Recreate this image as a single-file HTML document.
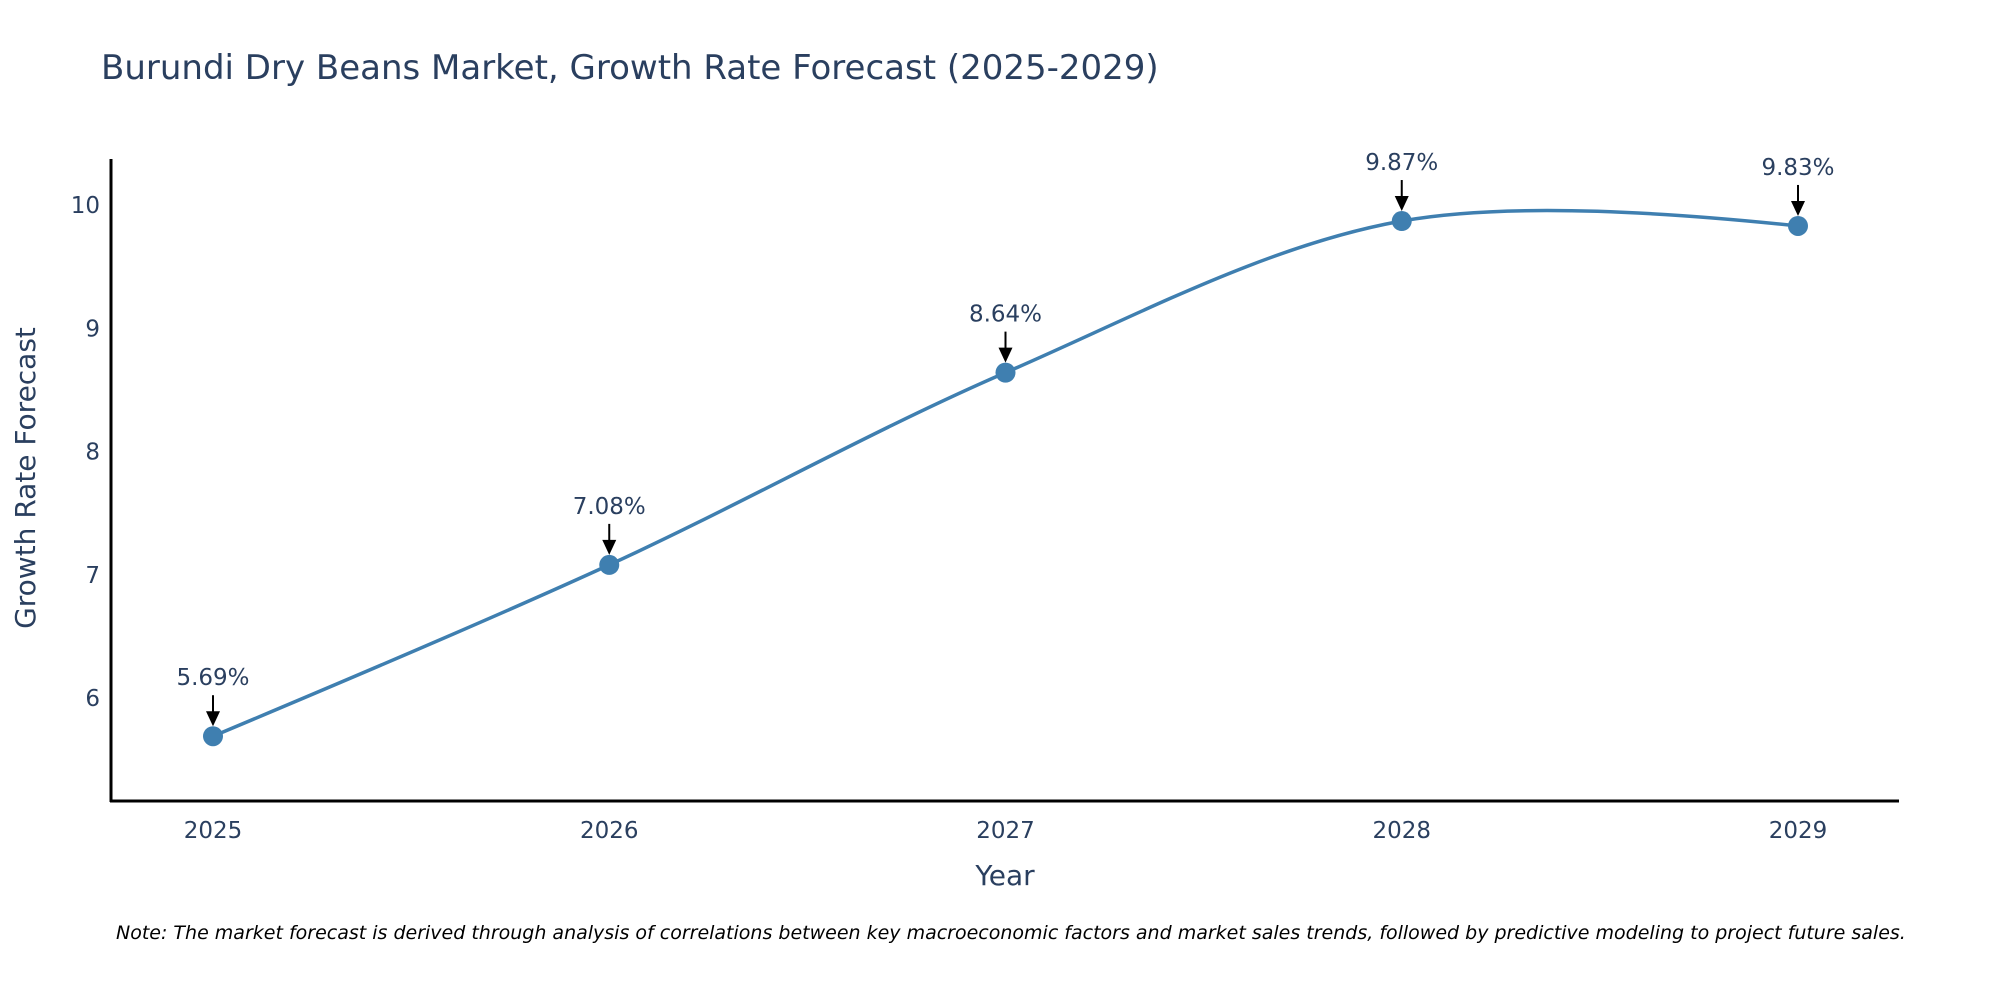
<!DOCTYPE html>
<html><head><meta charset="utf-8"><style>
body{margin:0;background:#fff;}
svg{display:block;font-family:"DejaVu Sans","Liberation Sans",sans-serif;}
</style></head><body>
<svg width="2000" height="1000" viewBox="0 0 2000 1000" id="chart">
<rect width="2000" height="1000" fill="#fff"/>
<text x="101" y="79" font-size="34" fill="#2a3f5f">Burundi Dry Beans Market, Growth Rate Forecast (2025-2029)</text>
<g id="plot"></g>
<line x1="111" y1="159" x2="111" y2="802" stroke="#000" stroke-width="3"/>
<line x1="110" y1="801" x2="1899" y2="801" stroke="#000" stroke-width="3"/>
<text x="1005" y="885" font-size="28" fill="#2a3f5f" text-anchor="middle">Year</text>
<text transform="translate(35,478) rotate(-90)" font-size="28" fill="#2a3f5f" text-anchor="middle">Growth Rate Forecast</text>
<text x="116" y="939" font-size="19" font-style="italic" fill="#000">Note: The market forecast is derived through analysis of correlations between key macroeconomic factors and market sales trends, followed by predictive modeling to project future sales.</text>
</svg>
<script>
const years=[2025,2026,2027,2028,2029];
const values=[5.69,7.08,8.64,9.87,9.83];
const labels=["5.69%","7.08%","8.64%","9.87%","9.83%"];
const yTicks=[6,7,8,9,10];
const NS="http://www.w3.org/2000/svg";
const g=document.getElementById('plot');
const xS=v=>213+(v-2025)*(1798-213)/4;
const yS=v=>698-(v-6)*(698-205)/4;
function mk(t,a){const e=document.createElementNS(NS,t);for(const k in a)e.setAttribute(k,a[k]);g.appendChild(e);return e;}
yTicks.forEach(t=>{const e=mk('text',{x:100,y:yS(t)+8,'font-size':23,fill:'#2a3f5f','text-anchor':'end'});e.textContent=t;

});
years.forEach(t=>{const e=mk('text',{x:xS(t),y:838,'font-size':23,fill:'#2a3f5f','text-anchor':'middle'});e.textContent=t;

});
const P=years.map((y,i)=>[xS(y),yS(values[i])]);
function tan(a,b,c,s){const d1x=a[0]-b[0],d1y=a[1]-b[1],d2x=c[0]-b[0],d2y=c[1]-b[1];
const d1a=Math.pow(d1x*d1x+d1y*d1y,0.25),d2a=Math.pow(d2x*d2x+d2y*d2y,0.25);
const nx=(d2a*d2a*d1x-d1a*d1a*d2x)*s,ny=(d2a*d2a*d1y-d1a*d1a*d2y)*s;
const e1=3*d2a*(d1a+d2a),e2=3*d1a*(d1a+d2a);
return [[b[0]+nx/e1,b[1]+ny/e1],[b[0]-nx/e2,b[1]-ny/e2]];}
const T=[];for(let i=1;i<P.length-1;i++)T.push(tan(P[i-1],P[i],P[i+1],1));
let d=`M${P[0]} Q${T[0][0]} ${P[1]}`;
for(let i=2;i<P.length-1;i++)d+=` C${T[i-2][1]} ${T[i-1][0]} ${P[i]}`;
d+=` Q${T[T.length-1][1]} ${P[P.length-1]}`;
const ln=mk('path',{d:d,fill:'none',stroke:'#3f7fb0','stroke-width':3.5});


P.forEach((p,i)=>{const c=mk('circle',{cx:p[0],cy:p[1],r:10,fill:'#3f7fb0'});


const l=mk('line',{x1:p[0],y1:p[1]-41,x2:p[0],y2:p[1]-24,stroke:'#000','stroke-width':2});


const h=mk('polygon',{points:`${p[0]-7},${p[1]-25} ${p[0]+7},${p[1]-25} ${p[0]},${p[1]-10}`,fill:'#000'});


const t=mk('text',{x:p[0],y:p[1]-51,'font-size':23,fill:'#2a3f5f','text-anchor':'middle'});t.textContent=labels[i];

});
</script>
</body></html>
